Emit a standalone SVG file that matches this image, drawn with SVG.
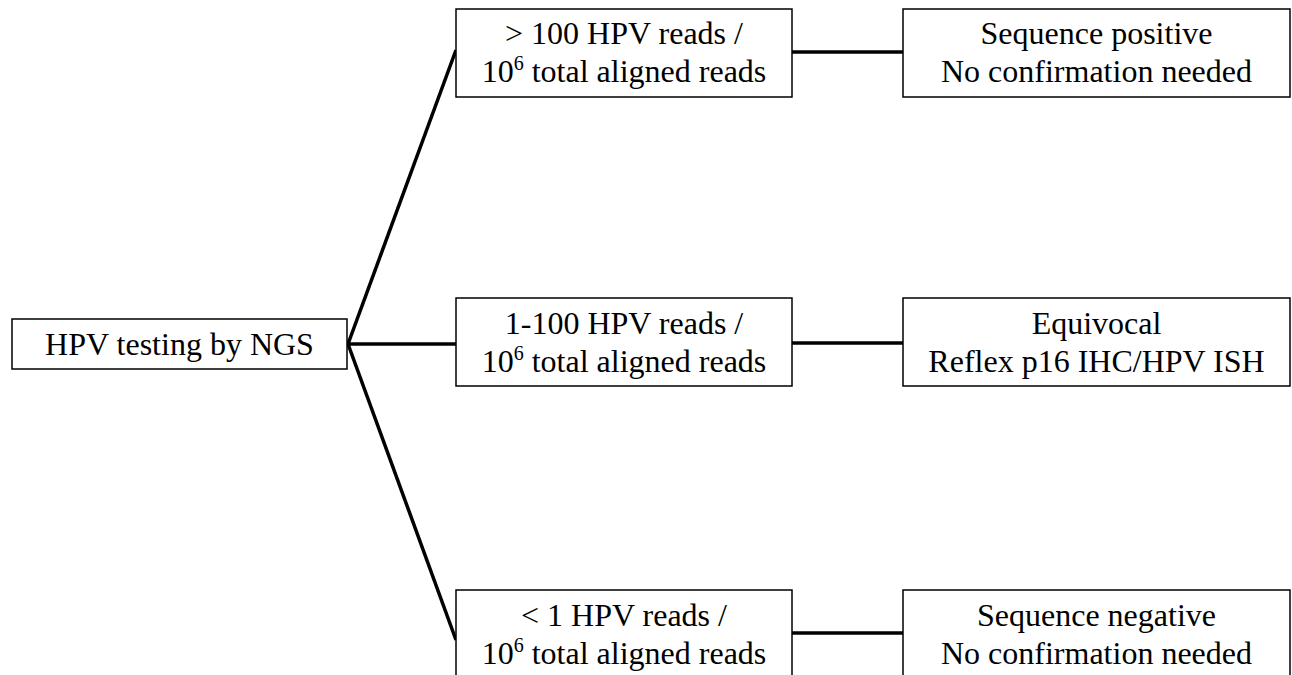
<svg xmlns="http://www.w3.org/2000/svg" width="1292" height="675" viewBox="0 0 1292 675">
<style>
.box{fill:#fff;stroke:#000;stroke-width:1.5}
text{font-family:'Liberation Serif','Times New Roman',Times,'DejaVu Serif',serif;font-size:32px;fill:#000;text-anchor:middle}
.sup{font-size:20px}
.c{stroke:#000;stroke-width:3.5;fill:none}
</style>
<rect width="1292" height="675" fill="#fff"/>
<g id="connectors">
<line class="c" x1="348" y1="344" x2="456" y2="50"/>
<line class="c" x1="348" y1="344" x2="456" y2="344"/>
<line class="c" x1="348" y1="344" x2="456" y2="640"/>
<line class="c" x1="792" y1="52" x2="903" y2="52"/>
<line class="c" x1="792" y1="343" x2="903" y2="343"/>
<line class="c" x1="792" y1="633" x2="903" y2="633"/>
</g>
<g id="root">
<rect class="box" x="12" y="319" width="335" height="50"/>
<text x="179.5" y="355" font-family="Liberation Serif, serif">HPV testing by NGS</text>
</g>
<g id="high">
<rect class="box" x="456" y="9" width="336" height="88"/>
<text x="624" y="44">&gt; 100 HPV reads /</text>
<text x="624" y="82">10<tspan class="sup" dy="-12">6</tspan><tspan dy="12"> total aligned reads</tspan></text>
</g>
<g id="high-result">
<rect class="box" x="903" y="9" width="387" height="88"/>
<text x="1096.5" y="44">Sequence positive</text>
<text x="1096.5" y="82">No confirmation needed</text>
</g>
<g id="mid">
<rect class="box" x="456" y="298" width="336" height="88"/>
<text x="624" y="334">1-100 HPV reads /</text>
<text x="624" y="372">10<tspan class="sup" dy="-12">6</tspan><tspan dy="12"> total aligned reads</tspan></text>
</g>
<g id="mid-result">
<rect class="box" x="903" y="298" width="387" height="88"/>
<text x="1096.5" y="334">Equivocal</text>
<text x="1096.5" y="372">Reflex p16 IHC/HPV ISH</text>
</g>
<g id="low">
<rect class="box" x="456" y="590" width="336" height="95"/>
<text x="624" y="626">&lt; 1 HPV reads /</text>
<text x="624" y="664">10<tspan class="sup" dy="-12">6</tspan><tspan dy="12"> total aligned reads</tspan></text>
</g>
<g id="low-result">
<rect class="box" x="903" y="590" width="387" height="95"/>
<text x="1096.5" y="626">Sequence negative</text>
<text x="1096.5" y="664">No confirmation needed</text>
</g>
</svg>
